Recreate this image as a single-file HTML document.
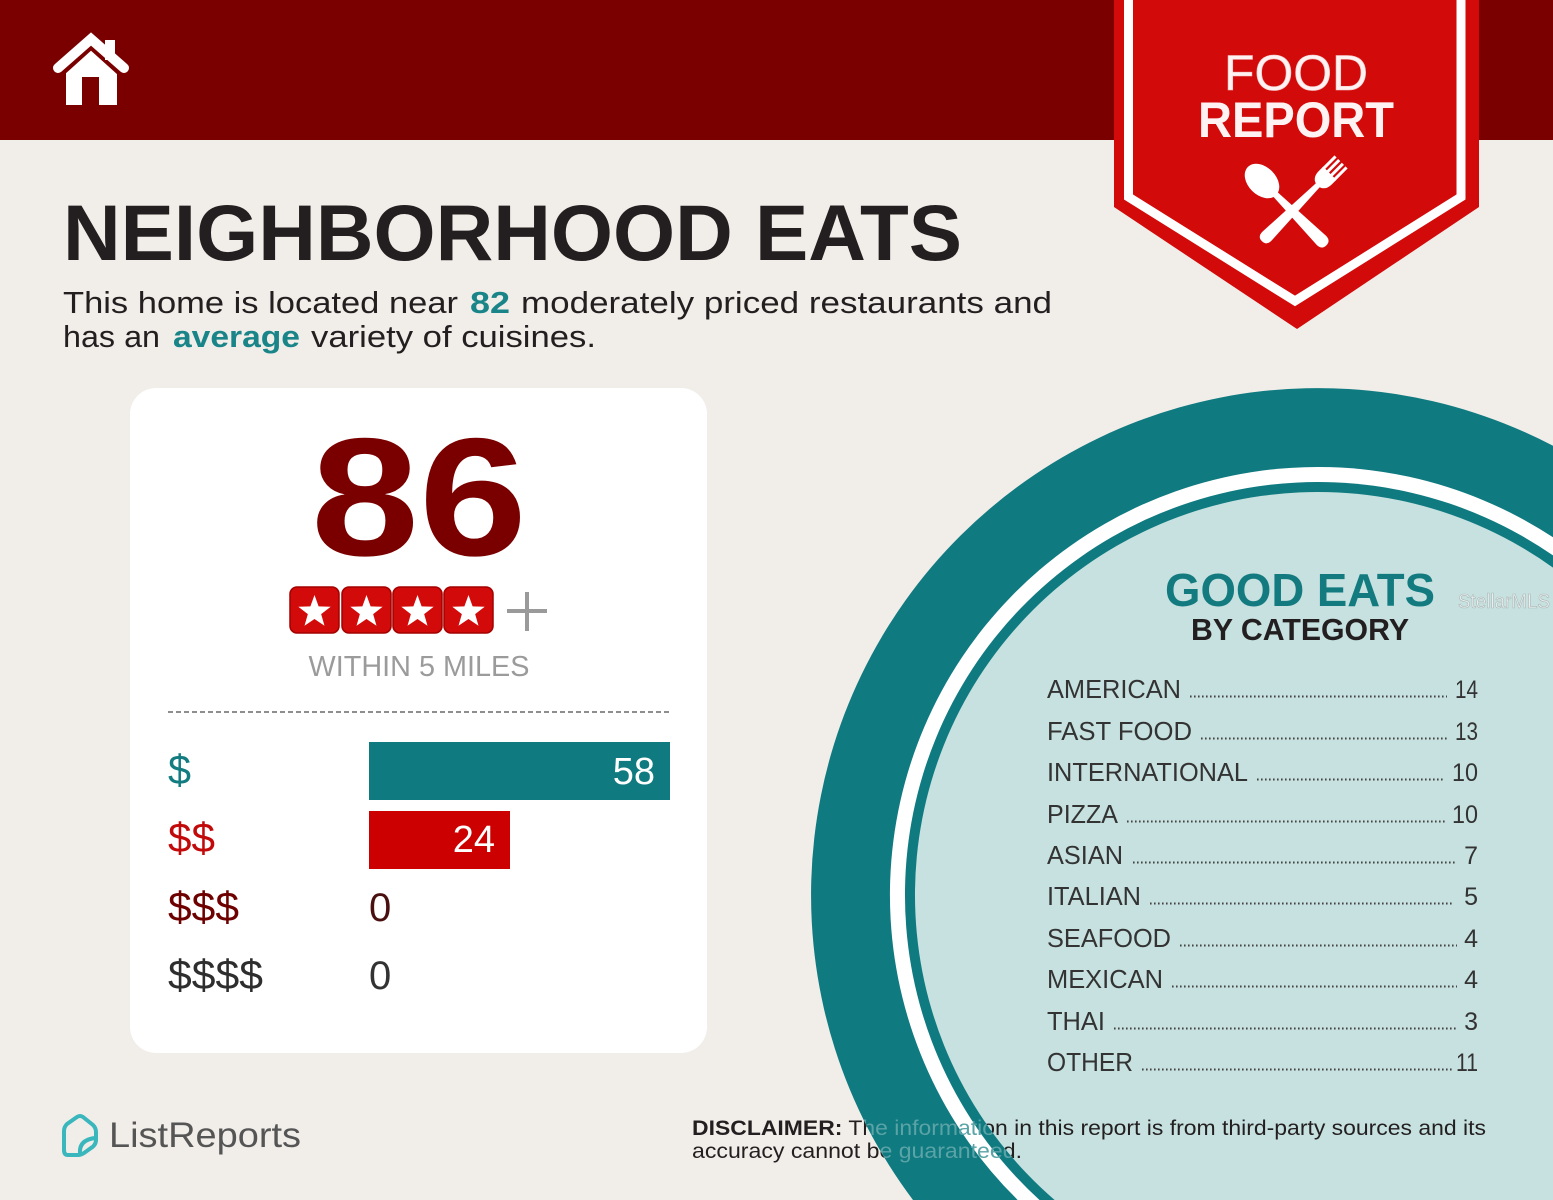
<!DOCTYPE html>
<html>
<head>
<meta charset="utf-8">
<style>
  html,body{margin:0;padding:0;background:#f1ede9;width:1553px;height:1200px;overflow:hidden;}
  svg{display:block;}
  text{font-family:"Liberation Sans", sans-serif;}
</style>
</head>
<body>
<svg width="1553" height="1200" viewBox="0 0 1553 1200" xmlns="http://www.w3.org/2000/svg">
  <defs>
    <clipPath id="ringClip">
      <path clip-rule="evenodd" d="M913,1200 A507,507 0 0,1 1553,445.8 L1553,1200 Z M1054.6,1200 A403,403 0 0,1 1553,567.6 L1553,1200 Z"/>
    </clipPath>
    <clipPath id="innerClip">
      <path d="M1054.6,1200 A403,403 0 0,1 1553,567.6 L1553,1200 Z"/>
    </clipPath>
  </defs>

  <!-- background -->
  <rect x="0" y="0" width="1553" height="1200" fill="#f1ede9"/>

  <!-- header -->
  <rect x="0" y="0" width="1553" height="140" fill="#7a0000"/>

  <!-- house icon -->
  <g>
    <polygon points="66,105 66,72 91,50 117,72 117,105" fill="#ffffff"/>
    <rect x="82" y="77" width="17" height="28" fill="#7a0000"/>
    <polyline points="61,75 91,48 121,75" fill="none" stroke="#7a0000" stroke-width="4"/>
    <rect x="105" y="40" width="10" height="20" fill="#ffffff"/>
    <polyline points="58,68 91,39 124,68" fill="none" stroke="#ffffff" stroke-width="10" stroke-linecap="round" stroke-linejoin="miter"/>
  </g>

  <!-- Food report badge -->
  <polygon points="1114,0 1479,0 1479,207 1297,329 1114,207" fill="#d20a0a"/>
  <polyline points="1128.5,0 1128.5,197 1295,301 1461,197 1461,0" fill="none" stroke="#ffffff" stroke-width="9"/>
  <text x="1296" y="90" font-size="50" text-anchor="middle" fill="#fff2f2" stroke="#f3c5c5" stroke-width="0.6" textLength="144" lengthAdjust="spacingAndGlyphs">FOOD</text>
  <text x="1296" y="137" font-size="50" font-weight="bold" text-anchor="middle" fill="#fff2f2" textLength="196" lengthAdjust="spacingAndGlyphs">REPORT</text>

  <!-- spoon -->
  <g transform="translate(1262,181) rotate(-45)" fill="#ffffff">
    <ellipse cx="0" cy="0" rx="14" ry="20"/>
    <path d="M-2.8,14 L2.8,14 L6.5,84 Q6.5,91 0,91 Q-6.5,91 -6.5,84 Z"/>
  </g>
  <!-- fork -->
  <g transform="translate(1326,178) rotate(45)" fill="#ffffff">
    <rect x="-10" y="-22" width="3" height="18"/>
    <rect x="-4.8" y="-22" width="3" height="18"/>
    <rect x="0.4" y="-22" width="3" height="18"/>
    <rect x="5.6" y="-22" width="3" height="18"/>
    <path d="M-10,-6 L8.6,-6 L8.6,0 Q8.6,9 2,11 L-3.4,11 Q-10,9 -10,0 Z"/>
    <path d="M-3.3,9 L2,9 L5.8,83 Q5.8,90 -0.7,90 Q-7,90 -7,83 Z"/>
  </g>

  <!-- title -->
  <text x="63" y="260" font-size="79" font-weight="bold" fill="#231f20" textLength="899" lengthAdjust="spacingAndGlyphs">NEIGHBORHOOD EATS</text>

  <!-- subtitle -->
  <text x="63" y="313" font-size="31" fill="#231f20" textLength="395" lengthAdjust="spacingAndGlyphs">This home is located near</text>
  <text x="470" y="313" font-size="31" font-weight="bold" fill="#1a8589" textLength="40" lengthAdjust="spacingAndGlyphs">82</text>
  <text x="521" y="313" font-size="31" fill="#231f20" textLength="531" lengthAdjust="spacingAndGlyphs">moderately priced restaurants and</text>
  <text x="63" y="347" font-size="31" fill="#231f20" textLength="97" lengthAdjust="spacingAndGlyphs">has an</text>
  <text x="173" y="347" font-size="31" font-weight="bold" fill="#1a8589" textLength="127" lengthAdjust="spacingAndGlyphs">average</text>
  <text x="311" y="347" font-size="31" fill="#231f20" textLength="285" lengthAdjust="spacingAndGlyphs">variety of cuisines.</text>

  <!-- white card -->
  <rect x="130" y="388" width="577" height="665" rx="26" ry="26" fill="#ffffff"/>

  <!-- 86 -->
  <text x="311" y="555" font-size="168" font-weight="bold" fill="#7a0000" textLength="216" lengthAdjust="spacingAndGlyphs">86</text>

  <!-- stars -->
  <g>
    <rect x="290" y="587" width="49" height="46" rx="7" fill="#d20a0a" stroke="#a30000" stroke-width="1.5"/>
    <rect x="342" y="587" width="49" height="46" rx="7" fill="#d20a0a" stroke="#a30000" stroke-width="1.5"/>
    <rect x="393" y="587" width="49" height="46" rx="7" fill="#d20a0a" stroke="#a30000" stroke-width="1.5"/>
    <rect x="444" y="587" width="49" height="46" rx="7" fill="#d20a0a" stroke="#a30000" stroke-width="1.5"/>
    <g fill="#ffffff">
      <path transform="translate(314.5,612)" d="M0,-17 L4.11,-5.66 L16.17,-5.25 L6.66,2.16 L9.99,13.75 L0,7 L-9.99,13.75 L-6.66,2.16 L-16.17,-5.25 L-4.11,-5.66 Z"/>
      <path transform="translate(366.5,612)" d="M0,-17 L4.11,-5.66 L16.17,-5.25 L6.66,2.16 L9.99,13.75 L0,7 L-9.99,13.75 L-6.66,2.16 L-16.17,-5.25 L-4.11,-5.66 Z"/>
      <path transform="translate(417.5,612)" d="M0,-17 L4.11,-5.66 L16.17,-5.25 L6.66,2.16 L9.99,13.75 L0,7 L-9.99,13.75 L-6.66,2.16 L-16.17,-5.25 L-4.11,-5.66 Z"/>
      <path transform="translate(468.5,612)" d="M0,-17 L4.11,-5.66 L16.17,-5.25 L6.66,2.16 L9.99,13.75 L0,7 L-9.99,13.75 L-6.66,2.16 L-16.17,-5.25 L-4.11,-5.66 Z"/>
    </g>
    <line x1="507" y1="611" x2="547" y2="611" stroke="#9a9a9a" stroke-width="4"/>
    <line x1="527" y1="592" x2="527" y2="631" stroke="#9a9a9a" stroke-width="4"/>
  </g>

  <text x="419" y="676" font-size="29" fill="#9b9b9b" text-anchor="middle" textLength="221" lengthAdjust="spacingAndGlyphs">WITHIN 5 MILES</text>

  <!-- dashed line -->
  <line x1="168" y1="712" x2="670" y2="712" stroke="#8e8e8e" stroke-width="2" stroke-dasharray="5 3"/>

  <!-- price bars -->
  <rect x="369" y="742" width="301" height="58" fill="#0f7a80"/>
  <rect x="369" y="811" width="141" height="58" fill="#cc0000"/>

  <text x="168" y="784" font-size="42" fill="#127c80" textLength="23" lengthAdjust="spacingAndGlyphs">$</text>
  <text x="168" y="852" font-size="42" fill="#c20a0a" textLength="47" lengthAdjust="spacingAndGlyphs">$$</text>
  <text x="168" y="921" font-size="42" fill="#6e0000" textLength="71" lengthAdjust="spacingAndGlyphs">$$$</text>
  <text x="168" y="989" font-size="42" fill="#2e2e2e" textLength="95" lengthAdjust="spacingAndGlyphs">$$$$</text>

  <text x="655" y="784" font-size="38" fill="#ffffff" text-anchor="end">58</text>
  <text x="495" y="852" font-size="38" fill="#ffffff" text-anchor="end">24</text>
  <text x="369" y="921" font-size="40" fill="#4a1010">0</text>
  <text x="369" y="989" font-size="40" fill="#333333">0</text>

  <!-- ListReports logo -->
  <g fill="none" stroke="#3ab6bd" stroke-width="4" stroke-linejoin="round" stroke-linecap="round">
    <path d="M64,1150 L64,1131 Q64,1127 67,1124 L77,1117 Q80,1115 83,1117 L93,1125 Q96,1128 96,1132 L96,1140 Q96,1145 91,1148 L84,1153 Q81,1155 78,1155 L68,1155 Q64,1155 64,1150 Z"/>
    <path d="M80,1153 Q79,1140 95,1138"/>
  </g>
  <text x="109" y="1147" font-size="35" fill="#555555" textLength="192" lengthAdjust="spacingAndGlyphs">ListReports</text>

  <!-- disclaimer (under the circle) -->
  <text x="692" y="1135" font-size="21" fill="#231f20" textLength="794" lengthAdjust="spacingAndGlyphs"><tspan font-weight="bold">DISCLAIMER:</tspan> The information in this report is from third-party sources and its</text>
  <text x="692" y="1158" font-size="21" fill="#231f20" textLength="330" lengthAdjust="spacingAndGlyphs">accuracy cannot be guaranteed.</text>

  <!-- big circle (pre-clipped to the frame) -->
  <path d="M913,1200 A507,507 0 0,1 1553,445.8 L1553,1200 Z" fill="#0f7a80"/>
  <path d="M1017.7,1200 A428,428 0 0,1 1553,537.3 L1553,1200 Z" fill="#ffffff"/>
  <path d="M1039.5,1200 A413,413 0 0,1 1553,555.4 L1553,1200 Z" fill="#0f7a80"/>
  <path d="M1054.6,1200 A403,403 0 0,1 1553,567.6 L1553,1200 Z" fill="#c6e1df"/>

  <!-- disclaimer overlay -->
  <g clip-path="url(#ringClip)">
    <text x="692" y="1135" font-size="21" fill="#5aa3a6" textLength="794" lengthAdjust="spacingAndGlyphs"><tspan font-weight="bold">DISCLAIMER:</tspan> The information in this report is from third-party sources and its</text>
    <text x="692" y="1158" font-size="21" fill="#5aa3a6" textLength="330" lengthAdjust="spacingAndGlyphs">accuracy cannot be guaranteed.</text>
  </g>
  <g clip-path="url(#innerClip)">
    <text x="692" y="1135" font-size="21" fill="#231f20" textLength="794" lengthAdjust="spacingAndGlyphs"><tspan font-weight="bold">DISCLAIMER:</tspan> The information in this report is from third-party sources and its</text>
    <text x="692" y="1158" font-size="21" fill="#231f20" textLength="330" lengthAdjust="spacingAndGlyphs">accuracy cannot be guaranteed.</text>
  </g>

  <!-- Good eats heading -->
  <text x="1165" y="606" font-size="46" font-weight="bold" fill="#137b80" textLength="270" lengthAdjust="spacingAndGlyphs">GOOD EATS</text>
  <text x="1191" y="640" font-size="31" font-weight="bold" fill="#231f20" textLength="218" lengthAdjust="spacingAndGlyphs">BY CATEGORY</text>
  <text x="1458" y="608" font-size="20" fill="#e9efee" stroke="#a9b6b6" stroke-width="0.6" textLength="92" lengthAdjust="spacingAndGlyphs">StellarMLS</text>

  <!-- category list -->
  <g font-size="26" fill="#333333">
    <text x="1047" y="698" textLength="134" lengthAdjust="spacingAndGlyphs">AMERICAN</text>
    <text x="1047" y="740" textLength="145" lengthAdjust="spacingAndGlyphs">FAST FOOD</text>
    <text x="1047" y="781" textLength="201" lengthAdjust="spacingAndGlyphs">INTERNATIONAL</text>
    <text x="1047" y="823" textLength="71" lengthAdjust="spacingAndGlyphs">PIZZA</text>
    <text x="1047" y="864" textLength="76" lengthAdjust="spacingAndGlyphs">ASIAN</text>
    <text x="1047" y="905" textLength="94" lengthAdjust="spacingAndGlyphs">ITALIAN</text>
    <text x="1047" y="947" textLength="124" lengthAdjust="spacingAndGlyphs">SEAFOOD</text>
    <text x="1047" y="988" textLength="116" lengthAdjust="spacingAndGlyphs">MEXICAN</text>
    <text x="1047" y="1030" textLength="58" lengthAdjust="spacingAndGlyphs">THAI</text>
    <text x="1047" y="1071" textLength="86" lengthAdjust="spacingAndGlyphs">OTHER</text>
  </g>
  <g font-size="25" fill="#333333" text-anchor="end">
    <text x="1478" y="698" textLength="23" lengthAdjust="spacingAndGlyphs">14</text>
    <text x="1478" y="740" textLength="23" lengthAdjust="spacingAndGlyphs">13</text>
    <text x="1478" y="781" textLength="26" lengthAdjust="spacingAndGlyphs">10</text>
    <text x="1478" y="823" textLength="26" lengthAdjust="spacingAndGlyphs">10</text>
    <text x="1478" y="864">7</text>
    <text x="1478" y="905">5</text>
    <text x="1478" y="947">4</text>
    <text x="1478" y="988">4</text>
    <text x="1478" y="1030">3</text>
    <text x="1478" y="1071" textLength="22" lengthAdjust="spacingAndGlyphs">11</text>
  </g>
  <g stroke="#444444" stroke-width="2" stroke-dasharray="1.6 2.4">
    <line x1="1190" y1="696.5" x2="1447" y2="696.5"/>
    <line x1="1201" y1="738.5" x2="1447" y2="738.5"/>
    <line x1="1257" y1="779.5" x2="1445" y2="779.5"/>
    <line x1="1127" y1="821.5" x2="1445" y2="821.5"/>
    <line x1="1133" y1="862.5" x2="1457" y2="862.5"/>
    <line x1="1150" y1="903.5" x2="1453" y2="903.5"/>
    <line x1="1180" y1="945.5" x2="1457" y2="945.5"/>
    <line x1="1172" y1="986.5" x2="1457" y2="986.5"/>
    <line x1="1114" y1="1028.5" x2="1457" y2="1028.5"/>
    <line x1="1142" y1="1069.5" x2="1453" y2="1069.5"/>
  </g>
</svg>
</body>
</html>
